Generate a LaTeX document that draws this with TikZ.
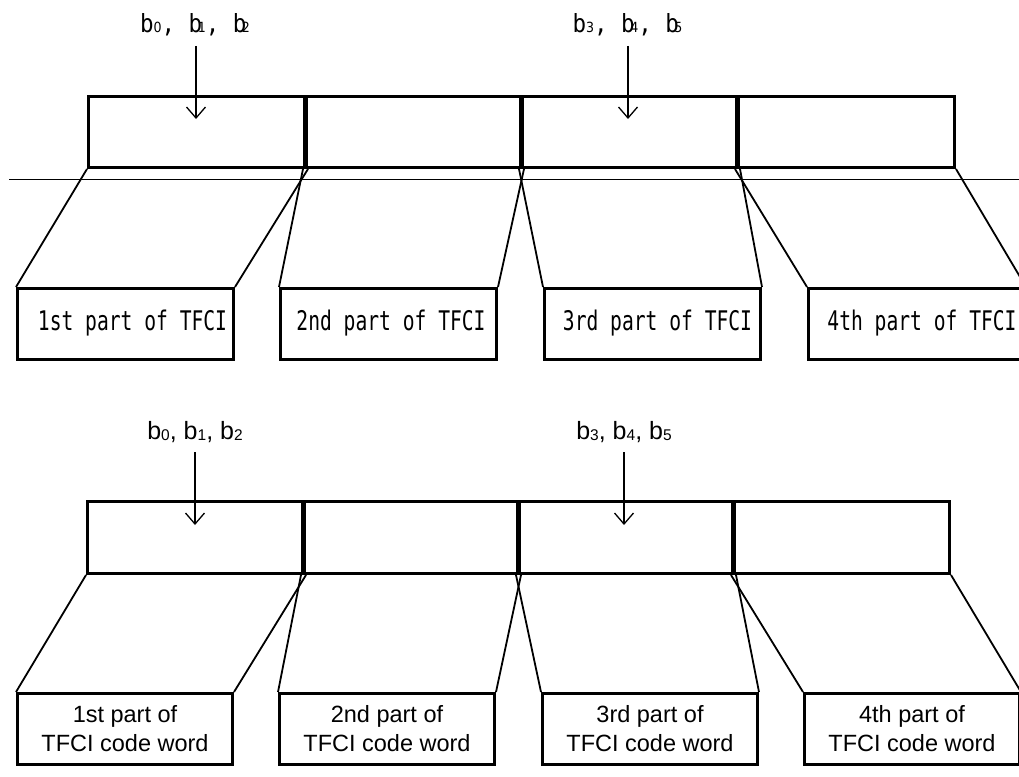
\documentclass[tikz,border=0pt]{standalone}
\usepackage{fontspec}
\usepackage{graphicx}
\usetikzlibrary{arrows.meta}
\setmainfont{Liberation Sans}
\newfontfamily\gul{DejaVu Sans Mono}
\newfontfamily\gulsub{DejaVu Sans}
\newcommand\gtext[1]{\scalebox{0.727}[1]{\fontsize{27}{30}\gul #1}}
\newcommand\glab[1]{\scalebox{0.9}[1]{\fontsize{25}{28}\gul #1}}
\newcommand\gsb[1]{{\fontsize{14}{14}\gulsub #1}}
\newcommand\asb[1]{\raisebox{-1.5pt}{\fontsize{15.5}{15.5}\selectfont #1}}
\tikzset{
  topblk/.style={draw, line width=3pt, minimum width=218pt, minimum height=71pt, inner sep=0pt, anchor=north west},
  botblk/.style={draw, line width=3pt, minimum width=217pt, minimum height=72pt, inner sep=0pt, anchor=north west},
  partbox/.style={draw, line width=3pt, minimum width=216pt, minimum height=71pt, inner sep=0pt, anchor=north west},
  partboxb/.style={draw, line width=3pt, minimum width=215pt, minimum height=71pt, inner sep=0pt, anchor=north west,
    align=center, font=\fontsize{23.5}{29}\selectfont},
  conn/.style={line width=1.8pt},
  inarr/.style={line width=1.3pt, -{Straight Barb[length=11pt,width=19pt,line width=1.3pt]}},
  txt/.style={inner sep=0pt},
}
\begin{document}
\begin{tikzpicture}[x=1pt,y=-1pt]
\useasboundingbox (0,0) rectangle (1019,776);
\clip (0,0) rectangle (1019,776);
% ---------- upper diagram ----------
\node[topblk] (t1) at (87,95) {};
\node[topblk] (t2) at (303,95) {};
\node[topblk] (t3) at (519,95) {};
\node[topblk] (t4) at (735,95) {};
\coordinate (h1) at (9,179);
\coordinate (h2) at (1019,179);
\draw[line width=1pt] (h1) -- (h2);
\node[partbox] (p1) at (16,287) {};
\node[partbox] (p2) at (279,287) {};
\node[partbox] (p3) at (543,287) {};
\node[partbox] (p4) at (807,287) {};
\node[txt] (pt1) at (132.5,323) {\gtext{1st part of TFCI}};
\node[txt] (pt2) at (391,323) {\gtext{2nd part of TFCI}};
\node[txt] (pt3) at (657.5,323) {\gtext{3rd part of TFCI}};
\node[txt] (pt4) at (922,323) {\gtext{4th part of TFCI}};
\draw[conn] (t1.south west) -- (p1.north west);
\draw[conn] (t1.south east) -- (p1.north east);
\draw[conn] (t2.south west) -- (p2.north west);
\draw[conn] (t2.south east) -- (p2.north east);
\draw[conn] (t3.south west) -- (p3.north west);
\draw[conn] (t3.south east) -- (p3.north east);
\draw[conn] (t4.south west) -- (p4.north west);
\draw[conn] (t4.south east) -- (p4.north east);
\node[txt] (l1) at (195,25) {\glab{b\gsb{0}, b\kern-0.2em\gsb{1}, b\kern-0.2em\gsb{2}}};
\node[txt] (l2) at (627.5,25) {\glab{b\gsb{3}, b\kern-0.2em\gsb{4}, b\kern-0.2em\gsb{5}}};
\coordinate (a1s) at (196,46);
\coordinate (a1e) at (196,119);
\coordinate (a2s) at (628,46);
\coordinate (a2e) at (628,119);
\draw[inarr] (a1s) -- (a1e);
\draw[inarr] (a2s) -- (a2e);
% ---------- lower diagram ----------
\node[botblk] (u1) at (86,500) {};
\node[botblk] (u2) at (301,500) {};
\node[botblk] (u3) at (516,500) {};
\node[botblk] (u4) at (731,500) {};
\node[partboxb] (q1) at (16,692) {1st part of\\TFCI code word};
\node[partboxb] (q2) at (278,692) {2nd part of\\TFCI code word};
\node[partboxb] (q3) at (541,692) {3rd part of\\TFCI code word};
\node[partboxb] (q4) at (803,692) {4th part of\\TFCI code word};
\draw[conn] (u1.south west) -- (q1.north west);
\draw[conn] (u1.south east) -- (q1.north east);
\draw[conn] (u2.south west) -- (q2.north west);
\draw[conn] (u2.south east) -- (q2.north east);
\draw[conn] (u3.south west) -- (q3.north west);
\draw[conn] (u3.south east) -- (q3.north east);
\draw[conn] (u4.south west) -- (q4.north west);
\draw[conn] (u4.south east) -- (q4.north east);
\node[txt, font=\fontsize{25}{28}\selectfont] (m1) at (195,432) {b\asb{0}, b\asb{1}, b\asb{2}};
\node[txt, font=\fontsize{25}{28}\selectfont] (m2) at (624,432) {b\asb{3}, b\asb{4}, b\asb{5}};
\coordinate (c1s) at (195,452);
\coordinate (c1e) at (195,525);
\coordinate (c2s) at (624,452);
\coordinate (c2e) at (624,525);
\draw[inarr] (c1s) -- (c1e);
\draw[inarr] (c2s) -- (c2e);
\end{tikzpicture}
\end{document}
